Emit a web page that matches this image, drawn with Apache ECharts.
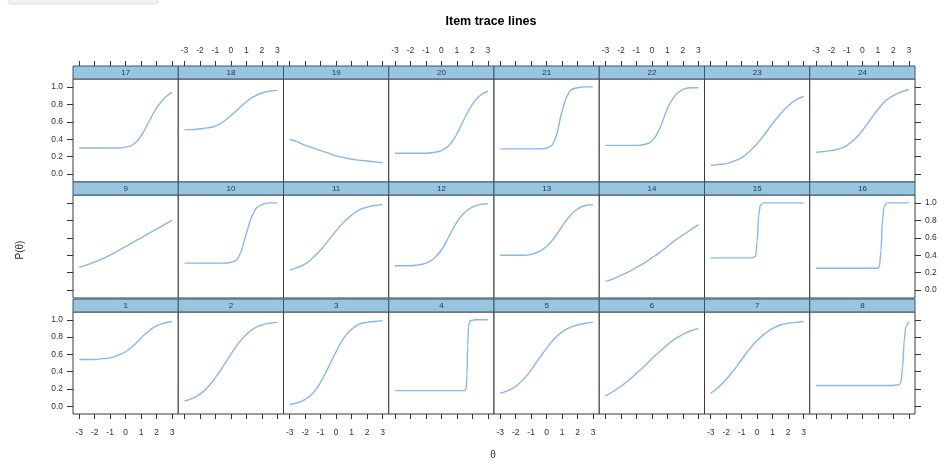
<!DOCTYPE html>
<html><head><meta charset="utf-8">
<script src="https://cdn.jsdelivr.net/npm/echarts@6/dist/echarts.min.js"></script>
<style>html,body{margin:0;padding:0;background:#fff}#c{width:946px;height:464px}</style>
</head><body><div id="c"></div>
<script>
// ---- data ----
const thetaTicks = [-3, -2, -1, 0, 1, 2, 3];
const probTicks = [0, 0.2, 0.4, 0.6, 0.8, 1.0];
const theta = [-3, -2.5, -2, -1.5, -1, -0.5, 0, 0.5, 1, 1.5, 2, 2.5, 3];

const item1  = [0.54,0.54,0.54,0.55,0.56,0.59,0.63,0.70,0.79,0.87,0.93,0.96,0.98];
const item2  = [0.06,0.09,0.14,0.22,0.33,0.46,0.60,0.73,0.83,0.90,0.94,0.96,0.97];
const item3  = [0.02,0.04,0.08,0.15,0.28,0.45,0.63,0.79,0.89,0.95,0.97,0.98,0.99];
const thetaItem4 = [-3,-1,1,1.5,1.6,1.65,1.7,1.75,1.85,2.2,3];
const item4  = [0.18,0.18,0.18,0.18,0.20,0.35,0.70,0.92,0.99,1.0,1.0];
const item5  = [0.15,0.18,0.23,0.31,0.42,0.55,0.67,0.78,0.86,0.91,0.94,0.96,0.97];
const item6  = [0.12,0.17,0.23,0.30,0.38,0.46,0.55,0.63,0.71,0.78,0.83,0.87,0.90];
const item7  = [0.15,0.22,0.31,0.42,0.54,0.66,0.76,0.84,0.90,0.94,0.96,0.97,0.98];
const thetaItem8 = [-3,-1,1,2,2.4,2.5,2.6,2.7,2.8,3];
const item8  = [0.24,0.24,0.24,0.24,0.25,0.28,0.45,0.75,0.92,0.98];
const item9  = [0.26,0.29,0.32,0.36,0.40,0.45,0.50,0.55,0.60,0.65,0.70,0.75,0.80];
const item10 = [0.31,0.31,0.31,0.31,0.31,0.31,0.32,0.38,0.65,0.90,0.98,1.0,1.0];
const item11 = [0.23,0.26,0.30,0.37,0.46,0.57,0.68,0.78,0.86,0.92,0.95,0.97,0.98];
const item12 = [0.28,0.28,0.28,0.29,0.31,0.36,0.46,0.62,0.78,0.89,0.95,0.98,0.99];
const item13 = [0.40,0.40,0.40,0.40,0.41,0.44,0.50,0.60,0.73,0.85,0.93,0.97,0.98];
const item14 = [0.10,0.13,0.17,0.21,0.26,0.31,0.37,0.43,0.50,0.57,0.63,0.69,0.75];
const thetaItem15 = [-3,-1,-0.3,-0.1,0,0.1,0.2,0.4,1,3];
const item15 = [0.37,0.37,0.37,0.39,0.55,0.85,0.97,1.0,1.0,1.0];
const thetaItem16 = [-3,0,1,1.1,1.2,1.3,1.4,1.6,3];
const item16 = [0.25,0.25,0.25,0.27,0.45,0.80,0.96,1.0,1.0];
const item17 = [0.30,0.30,0.30,0.30,0.30,0.30,0.31,0.34,0.44,0.60,0.76,0.87,0.94];
const item18 = [0.51,0.51,0.52,0.53,0.55,0.60,0.67,0.75,0.83,0.89,0.93,0.95,0.96];
const item19 = [0.40,0.37,0.33,0.30,0.27,0.24,0.21,0.19,0.17,0.16,0.15,0.14,0.13];
const item20 = [0.24,0.24,0.24,0.24,0.24,0.25,0.27,0.33,0.46,0.64,0.80,0.90,0.95];
const item21 = [0.29,0.29,0.29,0.29,0.29,0.29,0.30,0.38,0.72,0.95,0.99,1.0,1.0];
const item22 = [0.33,0.33,0.33,0.33,0.33,0.34,0.38,0.52,0.75,0.90,0.97,0.99,0.99];
const item23 = [0.10,0.11,0.12,0.15,0.19,0.26,0.35,0.46,0.58,0.69,0.78,0.85,0.89];
const item24 = [0.25,0.26,0.27,0.29,0.33,0.40,0.50,0.62,0.74,0.84,0.90,0.94,0.97];

const itemLabels = ['1','2','3','4','5','6','7','8','9','10','11','12','13','14','15','16','17','18','19','20','21','22','23','24'];
const itemValues = [item1,item2,item3,item4,item5,item6,item7,item8,item9,item10,item11,item12,
                    item13,item14,item15,item16,item17,item18,item19,item20,item21,item22,item23,item24];
const itemThetas = itemValues.map(() => theta);
itemThetas[3] = thetaItem4; itemThetas[7] = thetaItem8; itemThetas[14] = thetaItem15; itemThetas[15] = thetaItem16;
const stepItems = [3, 7, 14, 15];

// ---- layout / style ----
const LEFT = 73, PW = 105.25, STRIP = 13;
const rowTop = [79, 195, 312], rowH = [103, 103, 102];
const XMIN = -3.4, XMAX = 3.4, YMIN = -0.09, YMAX = 1.09;
const txt = '#333', lineCol = '#8ab6e8', font = 'Liberation Sans, Arial, sans-serif';

const grids = [], xAxes = [], yAxes = [], series = [], graphics = [];
for (let r = 0; r < 3; r++) {
  for (let c = 0; c < 8; c++) {
    const k = grids.length;
    const idx = (2 - r) * 8 + c;
    const left = LEFT + c * PW;
    grids.push({left: left, top: rowTop[r], width: PW, height: rowH[r], show: true,
      borderColor: '#3a3a3a', borderWidth: 1, backgroundColor: '#fff'});
    const xbase = {type: 'value', gridIndex: k, min: XMIN, max: XMAX, splitLine: {show: false},
      axisLine: {show: false, onZero: false}};
    xAxes.push(Object.assign({}, xbase, {position: 'bottom', show: r === 2,
      axisTick: {show: true, length: 5, customValues: thetaTicks, lineStyle: {color: txt}},
      axisLabel: {show: c % 2 === 0, customValues: thetaTicks, margin: 14, fontSize: 8.5, color: txt, fontFamily: font}}));
    xAxes.push(Object.assign({}, xbase, {position: 'top', offset: STRIP, show: r === 0,
      axisTick: {show: true, length: 5, customValues: thetaTicks, lineStyle: {color: txt}},
      axisLabel: {show: c % 2 === 1, customValues: thetaTicks, margin: 11, fontSize: 8.5, color: txt, fontFamily: font}}));
    const ybase = {type: 'value', gridIndex: k, min: YMIN, max: YMAX, splitLine: {show: false},
      axisLine: {show: false, onZero: false}};
    const fmt = v => v.toFixed(1);
    yAxes.push(Object.assign({}, ybase, {position: 'left', show: c === 0,
      axisTick: {show: true, length: 6, customValues: probTicks, lineStyle: {color: txt}},
      axisLabel: {show: r !== 1, customValues: probTicks, formatter: fmt, margin: 10, fontSize: 8.5, color: txt, fontFamily: font}}));
    yAxes.push(Object.assign({}, ybase, {position: 'right', show: c === 7,
      axisTick: {show: true, length: 6, customValues: probTicks, lineStyle: {color: txt}},
      axisLabel: {show: r === 1, customValues: probTicks, formatter: fmt, margin: 10, fontSize: 8.5, color: txt, fontFamily: font}}));
    const th = itemThetas[idx], vals = itemValues[idx];
    const isStep = stepItems.indexOf(idx) >= 0;
    series.push({type: 'line', xAxisIndex: 2 * k, yAxisIndex: 2 * k, showSymbol: false, silent: true,
      smooth: isStep ? 0.3 : 0.5, smoothMonotone: isStep ? 'x' : null,
      lineStyle: {color: lineCol, width: 1.4},
      data: th.map((t, i) => [t, vals[i]])});
    graphics.push({type: 'rect', z: 10, shape: {x: left, y: rowTop[r] - STRIP, width: PW, height: STRIP},
      style: {fill: '#98c6e0', stroke: '#3d5569', lineWidth: 1}});
    graphics.push({type: 'text', z: 11, x: left + PW / 2, y: rowTop[r] - STRIP / 2,
      style: {text: itemLabels[idx], fill: '#1e3347', font: '8px ' + font, align: 'center', verticalAlign: 'middle'}});
  }
}
graphics.push({type: 'rect', shape: {x: 8, y: -6, width: 150, height: 10, r: 3},
  style: {fill: '#f3f3f3', stroke: '#dcdcdc', lineWidth: 1}});
graphics.push({type: 'text', x: 20, y: 250, rotation: Math.PI / 2,
  style: {text: 'P(θ)', fill: txt, font: '10px ' + font, align: 'center', verticalAlign: 'middle'}});
graphics.push({type: 'text', x: 493, y: 455,
  style: {text: 'θ', fill: txt, font: '10px ' + font, align: 'center', verticalAlign: 'middle'}});

const chart = echarts.init(document.getElementById('c'), null, {renderer: 'canvas'});
chart.setOption({
  animation: false,
  backgroundColor: '#fff',
  title: {text: 'Item trace lines', left: 486, top: 10, textAlign: 'center',
    textStyle: {fontSize: 12.5, fontWeight: 'bold', color: '#000', fontFamily: font}},
  grid: grids, xAxis: xAxes, yAxis: yAxes, series: series, graphic: graphics
});
</script></body></html>
